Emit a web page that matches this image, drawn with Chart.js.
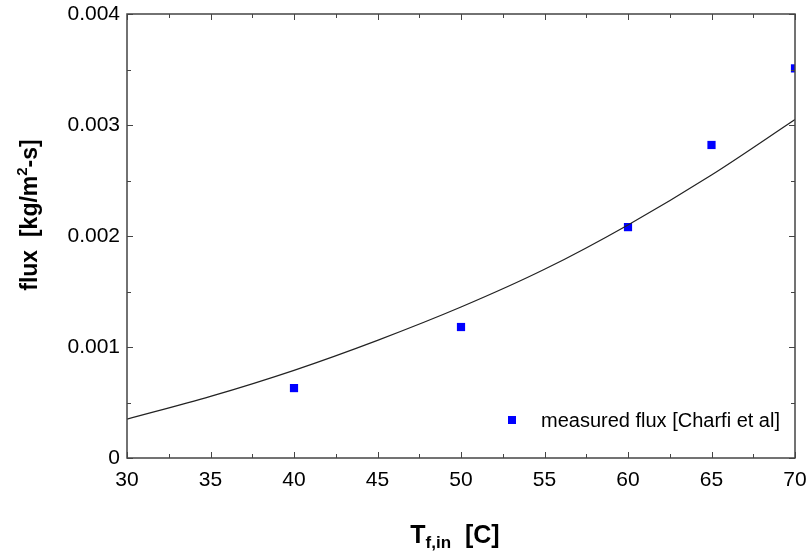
<!DOCTYPE html>
<html>
<head>
<meta charset="utf-8">
<script src="https://cdn.jsdelivr.net/npm/chart.js@4.4.0/dist/chart.umd.min.js"></script>
<style>
  html, body { margin: 0; padding: 0; background: #fff; }
  canvas { display: block; }
</style>
</head>
<body>
<canvas id="actualChart" width="809" height="555"></canvas>
<script>
	// model curve
	var modelT = [30, 35, 40, 45, 50, 55, 60, 65, 70];
	var modelFlux = [0.00035, 0.000555, 0.00079, 0.00106, 0.00136, 0.0017, 0.0021, 0.00255, 0.00305];
	// measured points
	var measT = [40, 50, 60, 65, 70];
	var measFlux = [0.00063, 0.00118, 0.00208, 0.00282, 0.00351];
	var measLabel = 'measured flux [Charfi et al]';

	var FONT = 'Liberation Sans, Arial, Helvetica, sans-serif';

	function pts(xs, ys){
		return xs.map((x, i) => ({x: x, y: ys[i]}));
	}

	// frame + inward ticks on all four sides
	var framePlugin = {
		id: 'frame',
		afterDraw(chart){
			let ctx = chart.ctx, a = chart.chartArea, x = chart.scales.x, y = chart.scales.y;
			ctx.save();
			ctx.strokeStyle = '#444';
			ctx.lineWidth = 1.5;
			ctx.strokeRect(a.left, a.top, a.right - a.left, a.bottom - a.top);
			ctx.lineWidth = 1;
			ctx.beginPath();
			for (let v = 30; v <= 70; v += 2.5){
				let px = Math.round(x.getPixelForValue(v)) + 0.5;
				let len = (v % 5 === 0) ? 6 : 4;
				ctx.moveTo(px, a.bottom); ctx.lineTo(px, a.bottom - len);
				ctx.moveTo(px, a.top); ctx.lineTo(px, a.top + len);
			}
			for (let i = 0; i <= 8; i++){
				let py = Math.round(y.getPixelForValue(i * 0.0005)) + 0.5;
				let len = (i % 2 === 0) ? 6 : 4;
				ctx.moveTo(a.left, py); ctx.lineTo(a.left + len, py);
				ctx.moveTo(a.right, py); ctx.lineTo(a.right - len, py);
			}
			ctx.stroke();
			ctx.restore();
		}
	};

	// legend inside the plot, bottom right
	var legendPlugin = {
		id: 'inLegend',
		afterDraw(chart){
			let ctx = chart.ctx;
			ctx.save();
			ctx.fillStyle = '#0000ff';
			ctx.fillRect(508, 416, 8, 8);
			ctx.fillStyle = '#000';
			ctx.font = '20px ' + FONT;
			ctx.textBaseline = 'middle';
			ctx.textAlign = 'left';
			ctx.fillText(chart.data.datasets[1].label, 541, 421);
			ctx.restore();
		}
	};

	// axis titles with sub/superscripts
	var titlePlugin = {
		id: 'axTitles',
		afterDraw(chart){
			let ctx = chart.ctx;
			ctx.save();
			ctx.fillStyle = '#000';
			ctx.textBaseline = 'alphabetic';
			ctx.textAlign = 'left';

			// x title: T_f,in  [C]
			let big = 'bold 25px ' + FONT, small = 'bold 17px ' + FONT;
			ctx.font = big;
			let wT = ctx.measureText('T').width;
			let wC = ctx.measureText('  [C]').width;
			ctx.font = small;
			let wS = ctx.measureText('f,in').width;
			let x0 = 455 - (wT + wS + wC) / 2, yb = 543;
			ctx.font = big; ctx.fillText('T', x0, yb);
			ctx.font = small; ctx.fillText('f,in', x0 + wT, yb + 5);
			ctx.font = big; ctx.fillText('  [C]', x0 + wT + wS, yb);

			// y title: flux  [kg/m^2-s]
			ctx.translate(37, 215);
			ctx.rotate(-Math.PI / 2);
			let p1 = 'flux  [kg/m', p2 = '2', p3 = '-s]';
			let b2 = 'bold 23px ' + FONT, s2 = 'bold 15px ' + FONT;
			ctx.font = b2;
			let w1 = ctx.measureText(p1).width, w3 = ctx.measureText(p3).width;
			ctx.font = s2;
			let w2 = ctx.measureText(p2).width;
			let sx = -(w1 + w2 + w3) / 2;
			ctx.font = b2; ctx.fillText(p1, sx, 0);
			ctx.font = s2; ctx.fillText(p2, sx + w1, -10);
			ctx.font = b2; ctx.fillText(p3, sx + w1 + w2, 0);
			ctx.restore();
		}
	};

	var data = {
		datasets: [{
			label: 'model',
			data: pts(modelT, modelFlux),
			showLine: true,
			borderColor: '#222',
			borderWidth: 1.2,
			pointRadius: 0,
			cubicInterpolationMode: 'monotone',
			fill: false
		}, {
			label: measLabel,
			data: pts(measT, measFlux),
			pointStyle: 'rect',
			pointRadius: 5.8,
			backgroundColor: '#0000ff',
			borderWidth: 0,
			showLine: false,
			clip: 0
		}]
	};

	var options = {
		responsive: false,
		animation: false,
		layout: { padding: { top: 14, right: 14, left: 0, bottom: 0 } },
		plugins: {
			legend: { display: false },
			tooltip: { enabled: false }
		},
		scales: {
			x: {
				type: 'linear',
				min: 30, max: 70,
				grid: { display: false, drawTicks: false },
				border: { display: false },
				ticks: { stepSize: 5, padding: 10, color: '#000', font: { size: 21, family: FONT } },
				afterFit(s){ s.height = 97; s.paddingLeft = 0; s.paddingRight = 0; }
			},
			y: {
				min: 0, max: 0.004,
				grid: { display: false, drawTicks: false },
				border: { display: false },
				ticks: {
					stepSize: 0.001, padding: 7, color: '#000',
					font: { size: 21, family: FONT },
					callback: v => v === 0 ? '0' : v.toFixed(3)
				},
				afterFit(s){ s.width = 127; s.paddingTop = 0; s.paddingBottom = 0; }
			}
		}
	};

	var myChart = new Chart(document.getElementById('actualChart'), {
		type: 'scatter',
		data,
		options,
		plugins: [framePlugin, legendPlugin, titlePlugin]
	});
</script>
</body>
</html>
